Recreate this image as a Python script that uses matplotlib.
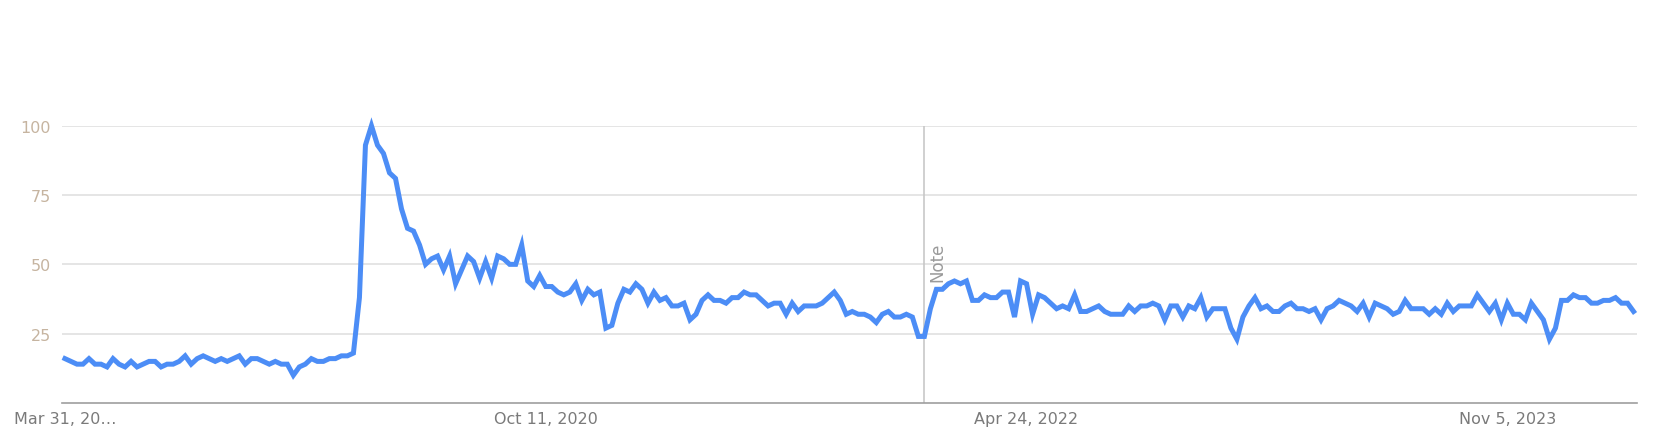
import numpy as np
import pandas as pd
import matplotlib
matplotlib.use("Agg")
import matplotlib.pyplot as plt

# weekly interest values, Google Trends style (0-100)
start_date = "2019-03-31"
interest = [
    16, 15, 14, 14, 16, 14, 14, 13, 16, 14, 13, 15, 13, 14, 15, 15, 13, 14, 14, 15,
    17, 14, 16, 17, 16, 15, 16, 15, 16, 17, 14, 16, 16, 15, 14, 15, 14, 14, 10, 13,
    14, 16, 15, 15, 16, 16, 17, 17,
    18, 38, 93, 100, 93, 90, 83, 81, 70, 63, 62, 57,
    50, 52, 53, 48, 53, 43, 48, 53, 51, 45, 51, 45, 53, 52, 50, 50, 57, 44, 42, 46,
    42, 42, 40, 39, 40, 43, 37, 41, 39, 40, 27, 28, 36, 41, 40, 43, 41, 36, 40, 37,
    38, 35, 35, 36, 30, 32, 37, 39, 37, 37, 36, 38, 38, 40, 39, 39, 37, 35, 36, 36,
    32, 36, 33, 35, 35, 35, 36, 38, 40, 37, 32, 33, 32, 32, 31, 29, 32,
    33, 31, 31, 32, 31, 24, 24, 34, 41, 41, 43, 44, 43, 44, 37, 37, 39, 38, 38, 40,
    40, 31, 44, 43, 32, 39, 38, 36, 34, 35, 34, 39, 33, 33, 34, 35, 33, 32, 32, 32,
    35, 33, 35, 35, 36, 35, 30, 35, 35, 31, 35, 34, 38, 31, 34, 34, 34, 27, 23, 31,
    35,
    38, 34, 35, 33, 33, 35, 36, 34, 34, 33, 34, 30, 34, 35, 37, 36, 35, 33, 36, 31,
    36, 35, 34, 32, 33, 37, 34, 34, 34, 32, 34, 32, 36, 33, 35, 35, 35, 39, 36, 33,
    36, 30, 36, 32, 32, 30, 36, 33, 30, 23, 27, 37, 37, 39, 38, 38, 36, 36, 37, 37,
    38, 36, 36, 33,
]
weeks = pd.date_range(start_date, periods=len(interest), freq="7D")

y_ticks = [25, 50, 75, 100]
x_tick_dates = ["2019-03-31", "2020-10-11", "2022-04-24", "2023-11-05"]
x_tick_labels = ["Mar 31, 20\u2026", "Oct 11, 2020", "Apr 24, 2022", "Nov 5, 2023"]
note_date = "2021-12-26"  # week containing Jan 1, 2022

fig = plt.figure(figsize=(16.74, 4.35), dpi=100)
ax = fig.add_axes([0.037, 0.0713, 0.941, 0.6374])

ax.plot(weeks, interest, color="#4c8df6", lw=3.6, solid_joinstyle="miter",
        clip_on=False, zorder=3)

# x range: half a week before the first point, a bit after the last
step = pd.Timedelta(days=7)
ax.set_xlim(weeks[0] - step * 0.5, weeks[-1] + step * 0.6)
ax.set_ylim(0, 100)

ax.set_yticks(y_ticks)
ax.set_yticklabels([str(t) for t in y_ticks], color="#c6b4a0", fontsize=11.5)
ax.yaxis.grid(True, color="#e0e0e0", lw=1.2)
ax.set_axisbelow(True)

ax.set_xticks(pd.to_datetime(x_tick_dates))
ax.set_xticklabels(x_tick_labels, color="#7a7a7a", fontsize=11.5)
ax.tick_params(axis="both", length=0)
ax.tick_params(axis="y", pad=8)
ax.tick_params(axis="x", pad=6)

for side in ["top", "right", "left"]:
    ax.spines[side].set_visible(False)
ax.spines["bottom"].set_color("#9e9e9e")
ax.spines["bottom"].set_linewidth(1.2)

# data collection note
nd = pd.Timestamp(note_date)
ax.axvline(nd, ymin=0, ymax=1, color="#c8c8c8", lw=1.2, zorder=2)
ax.text(nd + pd.Timedelta(days=5), 44, "Note", rotation=90, color="#9a9a9a",
        fontsize=12, ha="left", va="bottom")

fig.savefig("out.png", dpi=100, facecolor="white")
